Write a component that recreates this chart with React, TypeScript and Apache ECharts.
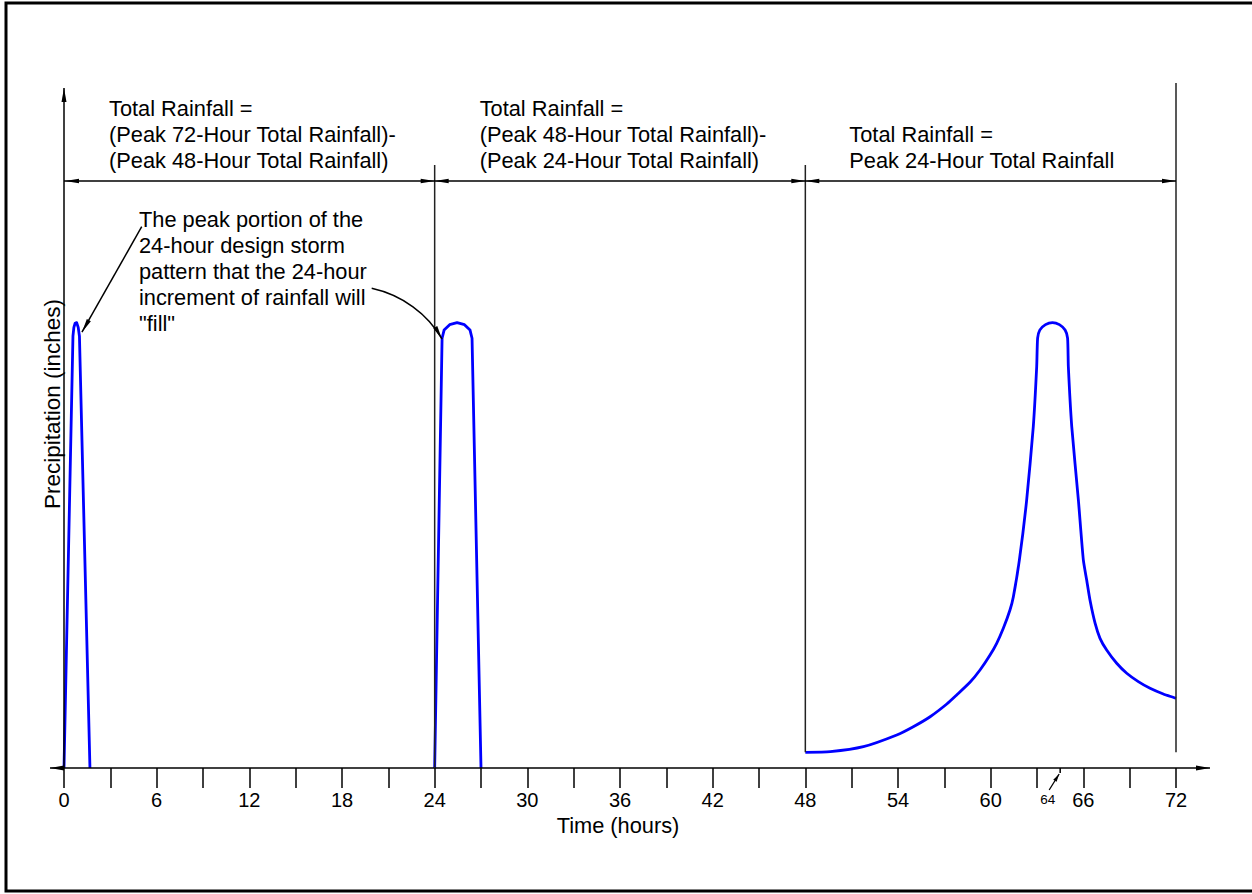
import React, { useEffect, useRef } from "react";
import * as echarts from "echarts";

// ---------- data ----------
const hourMin = 0;
const hourMax = 72;
const tickStep = 3;
const labelStep = 6;
const depthMax = 100;

const segmentBounds = [0, 24, 48, 72];
const segmentTitles = [
  "Total Rainfall =\n(Peak 72-Hour Total Rainfall)-\n(Peak 48-Hour Total Rainfall)",
  "Total Rainfall =\n(Peak 48-Hour Total Rainfall)-\n(Peak 24-Hour Total Rainfall)",
  "Total Rainfall =\nPeak 24-Hour Total Rainfall",
];
const annotationText =
  'The peak portion of the\n24-hour design storm\npattern that the 24-hour\nincrement of rainfall will\n"fill"';
const xAxisTitle = "Time (hours)";
const yAxisTitle = "Precipitation (inches)";
const peakMarkHour = 64.5;
const peakMarkLabel = "64";

const storm1Hours = [0, 0.58, 0.64, 0.72, 0.82, 0.92, 1.0, 1.68];
const storm1Depth = [0, 63.5, 64.8, 65.4, 65.5, 64.8, 63.5, 0];

const storm2Hours = [24, 24.48, 24.61, 24.97, 25.45, 25.93, 26.29, 26.42, 27.0];
const storm2Depth = [0, 63.2, 64.4, 65.2, 65.5, 65.2, 64.4, 63.2, 0];

const storm3Hours = [
  48, 49.62, 51.76, 53.92, 54.99, 56.08, 57.16, 57.8, 58.66, 59.31, 59.96, 60.39,
  60.82, 61.25, 61.47, 61.86, 62.33, 62.76, 62.98, 63.04, 63.18, 63.55, 64.0,
  64.45, 64.82, 64.98, 65.03, 65.25, 65.68, 66.0, 66.22, 66.43, 66.76, 67.08,
  67.51, 68.16, 68.81, 69.56, 70.32, 71.18, 72,
];
const storm3Depth = [
  2.3, 2.4, 3.13, 4.85, 6.07, 7.54, 9.41, 10.74, 12.6, 14.41, 16.62, 18.34,
  20.54, 23.24, 25.2, 30.6, 39.4, 50.2, 59.0, 63.2, 64.4, 65.2, 65.5, 65.2, 64.4,
  63.2, 59.0, 50.2, 39.4, 30.6, 27.6, 24.7, 21.3, 19.07, 17.35, 15.4, 13.93, 12.7,
  11.72, 10.88, 10.25,
];

// ---------- style ----------
const FONT = 'Arial, "Liberation Sans", Helvetica, sans-serif';
const INK = "#000";
const BLUE = "#0000ff";
const TEXT_SIZE = 21.8;

const zip = (xs: number[], ys: number[]) => xs.map((x, i) => [x, ys[i]]);

function arrowHead(tx: number, ty: number, dx: number, dy: number, len = 14, hw = 2.3) {
  const m = Math.hypot(dx, dy);
  const ux = dx / m;
  const uy = dy / m;
  const bx = tx - ux * len;
  const by = ty - uy * len;
  return {
    type: "polygon",
    silent: true,
    z: 20,
    shape: {
      points: [
        [tx, ty],
        [bx - uy * hw, by + ux * hw],
        [bx + uy * hw, by - ux * hw],
      ],
    },
    style: { fill: INK },
  };
}

function seg(x1: number, y1: number, x2: number, y2: number, w = 1.5, color = INK) {
  return {
    type: "line",
    silent: true,
    z: 15,
    shape: { x1, y1, x2, y2 },
    style: { stroke: color, lineWidth: w },
  };
}

function txt(x: number, y: number, text: string, size: number, extra: any = {}) {
  return {
    type: "text",
    silent: true,
    z: 30,
    x,
    y,
    ...extra,
    style: {
      text,
      fill: INK,
      fontSize: size,
      fontFamily: FONT,
      lineHeight: 26,
      textAlign: "left",
      textVerticalAlign: "top",
      align: "left",
      verticalAlign: "top",
      ...(extra.style || {}),
    },
  };
}

export default function App() {
  const ref = useRef<HTMLDivElement>(null);

  useEffect(() => {
    if (!ref.current) return;
    const chart = echarts.init(ref.current, null, { renderer: "svg" });

    const lineSeries = (name: string, data: number[][], smooth: number | boolean) => ({
      name,
      type: "line",
      data,
      showSymbol: false,
      symbol: "none",
      smooth,
      clip: false,
      lineStyle: { color: BLUE, width: 2.8, join: "round" },
      itemStyle: { color: BLUE },
      z: 10,
    });

    chart.setOption({
      animation: false,
      backgroundColor: "#fff",
      grid: { left: 64, right: 76, top: 88, bottom: 126, containLabel: false },
      xAxis: {
        type: "value",
        min: hourMin,
        max: hourMax,
        interval: tickStep,
        axisLine: { show: false },
        axisTick: { show: true, length: 20, lineStyle: { color: INK, width: 1.5 } },
        splitLine: { show: false },
        axisLabel: {
          show: true,
          margin: 22,
          color: INK,
          fontSize: 20,
          fontFamily: FONT,
          formatter: (v: number) => (v % labelStep === 0 ? String(v) : ""),
        },
      },
      yAxis: {
        type: "value",
        min: 0,
        max: depthMax,
        axisLine: { show: false },
        axisTick: { show: false },
        axisLabel: { show: false },
        splitLine: { show: false },
      },
      series: [
        lineSeries("storm1", zip(storm1Hours, storm1Depth), false),
        lineSeries("storm2", zip(storm2Hours, storm2Depth), false),
        lineSeries("storm3", zip(storm3Hours, storm3Depth), 0.2),
      ],
    });

    const P = (x: number, y: number) =>
      chart.convertToPixel({ gridIndex: 0 }, [x, y]) as number[];

    const [x0, y0] = P(hourMin, 0);
    const [xEnd] = P(hourMax, 0);
    const [, yTop] = P(0, depthMax);
    const bx = segmentBounds.map((b) => P(b, 0)[0]);
    const yCurveStart = P(storm3Hours[0], storm3Depth[0])[1];

    const dimY = 181;
    const els: any[] = [];

    // frame (right edge falls just outside the picture)
    els.push({
      type: "rect",
      silent: true,
      z: 1,
      shape: { x: 6, y: 3, width: 1250, height: 888 },
      style: { fill: "none", stroke: INK, lineWidth: 3 },
    });

    // x axis with arrows
    els.push(seg(x0 - 14, y0, xEnd + 34, y0, 1.6));
    els.push(arrowHead(x0 - 14, y0, -1, 0, 14, 2.5));
    els.push(arrowHead(xEnd + 34, y0, 1, 0, 14, 2.5));
    // y axis with arrow
    els.push(seg(x0, y0, x0, yTop, 1.5));
    els.push(arrowHead(x0, yTop, 0, -1, 14, 2.5));

    // boundary verticals
    els.push(seg(bx[1], 165, bx[1], y0, 1.5, "#222"));
    els.push(seg(bx[2], 165, bx[2], yCurveStart, 1.5, "#222"));
    els.push(seg(bx[3], 83, bx[3], yCurveStart, 1.5, "#222"));

    // dimension line
    els.push(seg(bx[0], dimY, bx[3], dimY, 1.5));
    els.push(arrowHead(bx[0] + 1, dimY, -1, 0));
    els.push(arrowHead(bx[1], dimY, 1, 0));
    els.push(arrowHead(bx[1], dimY, -1, 0));
    els.push(arrowHead(bx[2], dimY, 1, 0));
    els.push(arrowHead(bx[2], dimY, -1, 0));
    els.push(arrowHead(bx[3], dimY, 1, 0));

    // segment titles
    els.push(txt(bx[0] + 45, 95, segmentTitles[0], TEXT_SIZE));
    els.push(txt(bx[1] + 45, 95, segmentTitles[1], TEXT_SIZE));
    els.push(txt(bx[2] + 44, 121, segmentTitles[2], TEXT_SIZE));

    // annotation
    els.push(txt(139, 206, annotationText, TEXT_SIZE));
    const t1 = P(storm1Hours[6], storm1Depth[6]);
    const tip1x = t1[0] + 2.5;
    const tip1y = t1[1] - 4;
    els.push(seg(141.7, 226.7, tip1x, tip1y, 1.5));
    els.push(arrowHead(tip1x, tip1y, tip1x - 141.7, tip1y - 226.7, 14, 2.3));
    const t2 = P(storm2Hours[1], storm2Depth[1]);
    const tip2x = t2[0];
    const tip2y = t2[1] + 1;
    els.push({
      type: "bezierCurve",
      silent: true,
      z: 15,
      shape: {
        x1: 371.7,
        y1: 288.3,
        cpx1: 402,
        cpy1: 295,
        cpx2: 428,
        cpy2: 314,
        x2: tip2x,
        y2: tip2y,
      },
      style: { stroke: INK, lineWidth: 1.5, fill: "none" },
    });
    els.push(arrowHead(tip2x, tip2y, tip2x - 428, tip2y - 314, 14, 2.3));

    // small peak tick + label
    const [pmx] = P(peakMarkHour, 0);
    els.push(seg(pmx, y0, pmx, y0 + 5, 1.5));
    els.push(seg(pmx - 11, y0 + 22, pmx - 1, y0 + 6, 1.3));
    els.push(arrowHead(pmx - 1, y0 + 6, 10, -16, 8, 2));
    els.push(
      txt(pmx - 12.5, y0 + 31, peakMarkLabel, 13.5, {
        style: { textAlign: "center", align: "center", textVerticalAlign: "middle", verticalAlign: "middle" },
      })
    );

    // axis titles
    els.push(
      txt((x0 + xEnd) / 2 - 2, 825, xAxisTitle, TEXT_SIZE, {
        style: { textAlign: "center", align: "center", textVerticalAlign: "middle", verticalAlign: "middle" },
      })
    );
    els.push(
      txt(52, 404, yAxisTitle, 22.5, {
        rotation: Math.PI / 2,
        style: { textAlign: "center", align: "center", textVerticalAlign: "middle", verticalAlign: "middle" },
      })
    );

    chart.setOption({ graphic: { elements: els } });

    return () => chart.dispose();
  }, []);

  return (
    <div
      ref={ref}
      style={{ position: "fixed", left: 0, top: 0, width: 1252, height: 894, background: "#fff" }}
    />
  );
}
